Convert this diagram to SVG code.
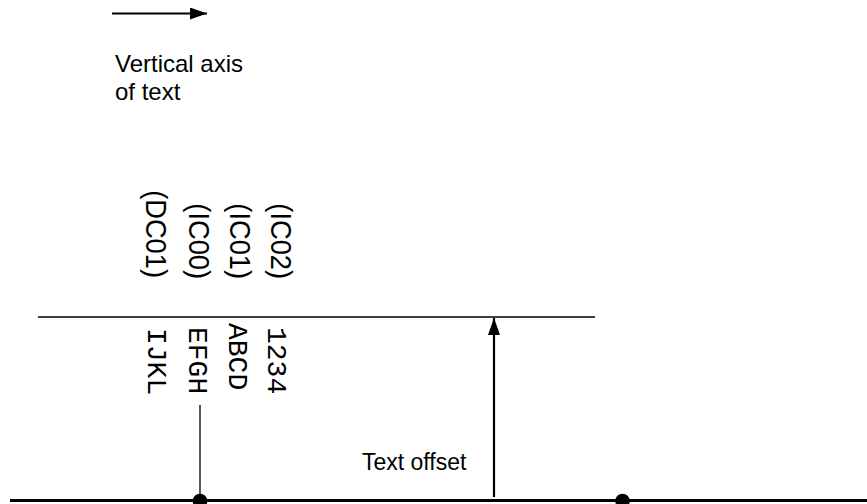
<svg xmlns="http://www.w3.org/2000/svg" width="867" height="504" viewBox="0 0 867 504">
<style>
.sans{font-family:"Liberation Sans",Arial,sans-serif;fill:#000}
.lbl{font-family:"Liberation Sans",Arial,sans-serif;font-size:29px;fill:#000}
.mono{font-family:"Liberation Mono","Courier New",monospace;font-size:28px;fill:#000}
.thin{stroke:#000;stroke-width:1.3;fill:none}
</style>
<defs>
<marker id="ah" markerWidth="17" markerHeight="12" refX="17" refY="6" orient="auto" markerUnits="userSpaceOnUse">
<path d="M0,0 L17,6 L0,12 Z" fill="#000"/>
</marker>
</defs>
<g id="legend">
<line x1="112" y1="13.5" x2="207" y2="13.5" stroke="#000" stroke-width="2.2" marker-end="url(#ah)"/>
<text class="sans" font-size="24" x="115" y="72">Vertical axis</text>
<text class="sans" font-size="24" x="115" y="100">of text</text>
</g>
<g id="labels-top">
<text class="lbl" text-anchor="end" transform="translate(146,278) rotate(90) scale(0.94,1)">(DC01)</text>
<text class="lbl" text-anchor="end" transform="translate(189,279) rotate(90) scale(0.94,1)">(IC00)</text>
<text class="lbl" text-anchor="end" transform="translate(230,279) rotate(90) scale(0.94,1)">(IC01)</text>
<text class="lbl" text-anchor="end" transform="translate(271,279) rotate(90) scale(0.94,1)">(IC02)</text>
</g>
<g id="labels-bottom">
<text class="mono" transform="translate(148,328) rotate(90)">IJKL</text>
<text class="mono" transform="translate(189,327) rotate(90)">EFGH</text>
<text class="mono" transform="translate(229,323) rotate(90)">ABCD</text>
<text class="mono" transform="translate(268,327) rotate(90)">1234</text>
</g>
<g id="connectors">
<line class="thin" x1="38" y1="317" x2="595" y2="317"/>
<line class="thin" x1="200" y1="405" x2="200" y2="500"/>
<line x1="494" y1="497" x2="494" y2="318" stroke="#000" stroke-width="2.2" marker-end="url(#ah)"/>
<line x1="10" y1="500.5" x2="867" y2="500.5" stroke="#000" stroke-width="3"/>
</g>
<g id="dots">
<circle cx="200" cy="501" r="7.3" fill="#000"/>
<circle cx="622.5" cy="501" r="7.3" fill="#000"/>
</g>
<text class="sans" font-size="23" x="362" y="470">Text offset</text>
</svg>
